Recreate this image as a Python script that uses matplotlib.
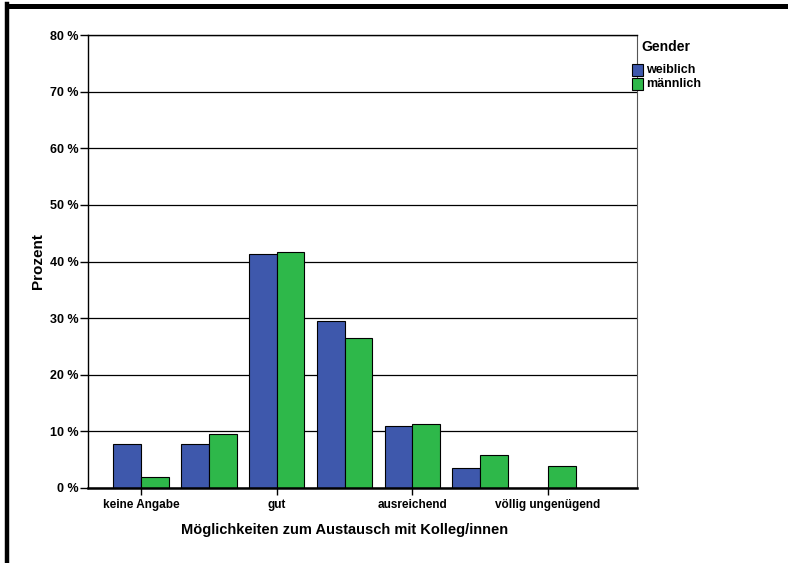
import matplotlib.pyplot as plt
import numpy as np
from matplotlib.lines import Line2D
from matplotlib.patches import Rectangle

plt.rcParams['font.family'] = ['Liberation Sans', 'DejaVu Sans']

# categories (only every other one is labelled in the original)
categories = ["keine Angabe", "", "gut", "", "ausreichend", "", "völlig ungenügend"]
weiblich = [7.8, 7.7, 41.3, 29.5, 11.0, 3.5, 0.0]
maennlich = [1.9, 9.5, 41.7, 26.5, 11.3, 5.8, 3.9]
series_labels = ["weiblich", "männlich"]
yticks = [0, 10, 20, 30, 40, 50, 60, 70, 80]

blue = '#3e58ac'
green = '#2eb84a'

W, H = 788, 563
fig = plt.figure(figsize=(W / 100, H / 100), dpi=100)
ax = fig.add_axes([88 / W, 1 - 488 / H, (637 - 88) / W, (488 - 35) / H])

x = np.arange(len(categories))
w = 0.41
ax.bar(x - w / 2, weiblich, width=w, color=blue, edgecolor='black',
       linewidth=0.8, label=series_labels[0], zorder=3)
ax.bar(x + w / 2, maennlich, width=w, color=green, edgecolor='black',
       linewidth=0.8, label=series_labels[1], zorder=3)

ax.set_xlim(-0.78, 7.31)
ax.set_ylim(0, 80)

ax.set_yticks(yticks)
ax.set_yticklabels([f"{t} %" for t in yticks], fontsize=9, fontweight='bold')
ax.yaxis.grid(True, color='black', linewidth=0.9, zorder=0)

lab_pos = [i for i, c in enumerate(categories) if c]
ax.set_xticks(lab_pos)
ax.set_xticklabels([categories[i] for i in lab_pos], fontsize=8.5,
                   fontweight='bold')
ax.tick_params(axis='x', direction='out', length=5, width=1, pad=3)
ax.tick_params(axis='y', direction='out', length=6, width=1, pad=0.5)

for s in ['left', 'top']:
    ax.spines[s].set_linewidth(1.0)
ax.spines['bottom'].set_linewidth(1.8)
ax.spines['bottom'].set_zorder(4)
ax.spines['right'].set_color('#555555')

ax.set_xlabel("Möglichkeiten zum Austausch mit Kolleg/innen", fontsize=10.5,
              fontweight='bold')
ax.xaxis.set_label_coords((345 - 88) / (637 - 88), -0.078)
ax.set_ylabel("Prozent", fontsize=11, fontweight='bold', labelpad=4)

# legend placed to the right of the plot, as in the SPSS output
fig.text(641 / W, 1 - 47 / H, "Gender", fontsize=10, fontweight='bold',
         ha='left', va='center')
for i, (lab, col) in enumerate(zip(series_labels, [blue, green])):
    yc = 70 + 14 * i
    fig.add_artist(Rectangle((632 / W, 1 - (yc + 6) / H), 11 / W, 12 / H,
                             facecolor=col, edgecolor='black', linewidth=0.8,
                             transform=fig.transFigure))
    fig.text(646 / W, 1 - yc / H, lab, fontsize=9, fontweight='bold',
             ha='left', va='center')

# thick frame lines at top and left of the picture
fig.add_artist(Line2D([7 / W, 7 / W], [0, 1 - 4 / H], color='black',
                      linewidth=3.2, transform=fig.transFigure))
fig.add_artist(Line2D([7 / W, 1.0], [1 - 5.5 / H, 1 - 5.5 / H], color='black',
                      linewidth=3.6, transform=fig.transFigure))

fig.savefig("out.png", dpi=100)
